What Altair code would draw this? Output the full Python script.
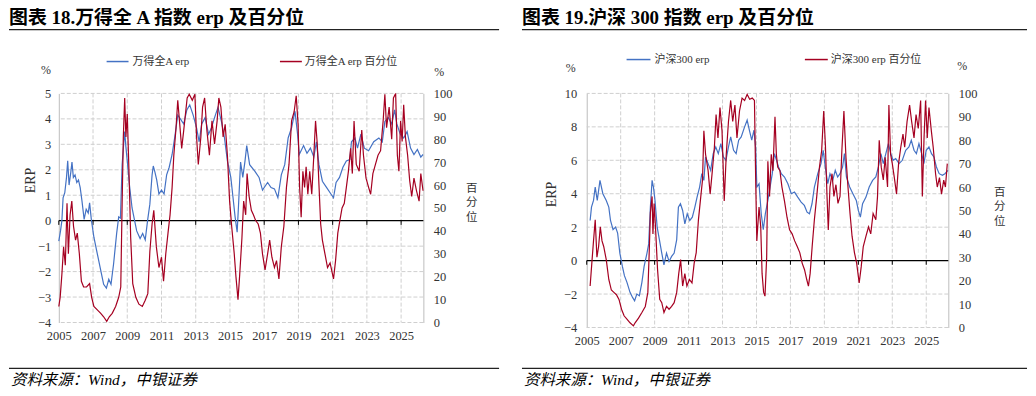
import altair as alt
import pandas as pd

# ---------------- data ----------------
YEAR_TICKS = [2005, 2007, 2009, 2011, 2013, 2015, 2017, 2019, 2021, 2023, 2025]
L_ERP_TICKS = [-4, -3, -2, -1, 0, 1, 2, 3, 4, 5]
R_ERP_TICKS = [-4, -2, 0, 2, 4, 6, 8, 10]
PCT_TICKS = [0, 10, 20, 30, 40, 50, 60, 70, 80, 90, 100]

# 万得全A erp (%)
L_ERP_YEARS = [2005.00, 2005.10, 2005.18, 2005.25, 2005.35, 2005.45, 2005.52, 2005.60, 2005.70, 2005.77,
               2005.85, 2005.95, 2006.05, 2006.15, 2006.25, 2006.35, 2006.48, 2006.60, 2006.72, 2006.80,
               2006.90, 2007.05, 2007.25, 2007.45, 2007.62, 2007.78, 2007.92, 2008.05, 2008.20, 2008.38,
               2008.50, 2008.60, 2008.70, 2008.80, 2008.85, 2008.92, 2009.00, 2009.12, 2009.28, 2009.43,
               2009.55, 2009.75, 2009.90, 2010.05, 2010.20, 2010.32, 2010.45, 2010.52, 2010.62, 2010.72,
               2010.85, 2011.00, 2011.15, 2011.30, 2011.45, 2011.62, 2011.78, 2011.95, 2012.10, 2012.30,
               2012.48, 2012.65, 2012.85, 2013.05, 2013.20, 2013.35, 2013.55, 2013.75, 2013.92, 2014.10,
               2014.30, 2014.50, 2014.68, 2014.85, 2015.05, 2015.18, 2015.30, 2015.42, 2015.50, 2015.62,
               2015.75, 2015.88, 2015.98, 2016.15, 2016.45, 2016.70, 2016.90, 2017.20, 2017.40, 2017.60,
               2017.80, 2018.00, 2018.20, 2018.40, 2018.60, 2018.80, 2018.95, 2019.05, 2019.30, 2019.50,
               2019.70, 2019.90, 2020.05, 2020.20, 2020.40, 2020.65, 2020.90, 2021.05, 2021.20, 2021.40,
               2021.60, 2021.80, 2022.00, 2022.10, 2022.30, 2022.45, 2022.65, 2022.85, 2023.10, 2023.40,
               2023.70, 2023.90, 2024.05, 2024.25, 2024.45, 2024.62, 2024.75, 2024.95, 2025.15, 2025.35,
               2025.55, 2025.75, 2025.95, 2026.15, 2026.28]
L_ERP_VALUES = [-0.8, -0.4, 0.0, 0.9, 1.1, 1.7, 2.35, 1.4, 1.9, 2.3,
                1.7, 1.8, 1.5, 1.6, 1.3, 0.8, 0.05, 0.45, 0.3, 0.7,
                0.05, -0.65, -1.3, -1.95, -2.5, -2.65, -2.3, -2.5, -1.7, -0.5,
                0.15, 0.1, 2.2, 3.1, 3.5, 2.9, 2.35, 1.45, 0.5, 0.0,
                -0.4, -0.7, -0.5, -0.75, 0.07, 0.65, 1.8, 2.15, 1.9, 1.6,
                1.05, 1.2, 1.05, 1.8, 2.1, 2.6, 3.3, 4.15, 4.0, 3.8,
                4.35, 4.55, 4.15, 3.65, 3.1, 3.8, 4.05, 3.4, 3.65, 4.05,
                4.45, 3.9, 3.25, 2.35, 1.7, 0.9, 0.15, -0.45, 0.6, 2.3,
                1.7, 2.35, 2.95, 2.2, 1.95, 1.7, 1.2, 1.5, 1.3, 1.25,
                0.9, 1.8, 2.2, 3.25, 3.65, 4.3, 3.4, 2.6, 2.95, 2.65,
                2.85, 2.5, 3.1, 2.2, 1.55, 1.3, 1.05, 0.9, 1.5, 1.7,
                2.1, 2.35, 2.4, 3.1, 3.25, 2.85, 3.4, 2.85, 2.75, 3.1,
                3.25, 3.1, 3.9, 4.05, 3.8, 4.35, 3.8, 3.4, 3.25, 3.5,
                2.85, 2.6, 2.8, 2.5, 2.6]

# 万得全A erp 百分位 (%)
L_PCT_YEARS = [2005.00, 2005.08, 2005.18, 2005.28, 2005.38, 2005.48, 2005.56, 2005.66, 2005.76, 2005.86,
               2005.98, 2006.08, 2006.20, 2006.32, 2006.45, 2006.62, 2006.80, 2006.92, 2007.05, 2007.25,
               2007.45, 2007.62, 2007.80, 2007.95, 2008.12, 2008.32, 2008.50, 2008.62, 2008.70, 2008.77,
               2008.85, 2008.92, 2009.00, 2009.10, 2009.20, 2009.32, 2009.50, 2009.68, 2009.88, 2010.05,
               2010.20, 2010.32, 2010.45, 2010.55, 2010.70, 2010.85, 2011.00, 2011.12, 2011.25, 2011.38,
               2011.50, 2011.62, 2011.72, 2011.85, 2011.95, 2012.05, 2012.18, 2012.30, 2012.40, 2012.50,
               2012.62, 2012.80, 2012.95, 2013.05, 2013.15, 2013.30, 2013.40, 2013.52, 2013.65, 2013.80,
               2013.95, 2014.10, 2014.25, 2014.35, 2014.47, 2014.60, 2014.72, 2014.85, 2014.98, 2015.10,
               2015.25, 2015.35, 2015.47, 2015.57, 2015.70, 2015.80, 2015.92, 2016.00, 2016.12, 2016.25,
               2016.37, 2016.50, 2016.65, 2016.78, 2016.90, 2017.05, 2017.20, 2017.32, 2017.45, 2017.60,
               2017.72, 2017.86, 2018.00, 2018.15, 2018.30, 2018.45, 2018.60, 2018.75, 2018.87, 2018.98,
               2019.07, 2019.16, 2019.26, 2019.36, 2019.45, 2019.55, 2019.66, 2019.78, 2019.90, 2020.00,
               2020.10, 2020.20, 2020.30, 2020.40, 2020.55, 2020.70, 2020.85, 2021.05, 2021.17, 2021.30,
               2021.42, 2021.55, 2021.68, 2021.80, 2021.92, 2022.05, 2022.15, 2022.25, 2022.38, 2022.55,
               2022.70, 2022.80, 2022.95, 2023.10, 2023.22, 2023.35, 2023.50, 2023.65, 2023.80, 2023.95,
               2024.05, 2024.15, 2024.30, 2024.45, 2024.55, 2024.68, 2024.78, 2024.87, 2024.97, 2025.06,
               2025.15, 2025.25, 2025.38, 2025.50, 2025.62, 2025.75, 2025.90, 2026.05, 2026.15, 2026.28]
L_PCT_VALUES = [7, 11, 21, 33, 25, 52, 30, 47, 53, 42,
                36, 39, 30, 18, 15.5, 15.5, 17, 11, 7, 5.5,
                4, 2.5, 0.5, 2.5, 4, 7, 11, 15.5, 52, 81,
                98, 81, 91, 66, 37, 17, 11, 8, 7, 9.7,
                12.6, 31, 43, 49, 33, 24, 28.5, 18, 30, 39,
                47, 59, 73, 85, 97, 88, 76, 84, 91, 98,
                99.6, 97, 99.6, 81, 69, 81, 94, 98, 84, 73,
                88, 78, 88, 98, 94, 81, 86.5, 73, 53, 42,
                30, 20, 10, 21, 37, 53, 47, 65, 55, 49,
                47, 44.5, 43, 39, 30, 23, 30, 36, 28.5, 24,
                27, 19, 33, 42, 59, 69, 88, 92, 99, 86.5,
                59, 46, 66, 59, 68, 56, 66, 56, 73, 88,
                78, 60, 43, 36, 30, 24, 26, 19, 27, 39,
                44.5, 50, 52, 59, 66, 76, 65, 88, 69, 66,
                84, 73, 63, 59, 56, 65, 69, 73, 75, 88,
                99.6, 85, 94, 80, 98, 100, 73, 66, 88, 79,
                95, 81, 73, 62, 55, 63, 57.5, 53, 65, 57.5]

# 沪深300 erp (%)
R_ERP_YEARS = [2005.20, 2005.28, 2005.40, 2005.50, 2005.62, 2005.78, 2005.95, 2006.15, 2006.30, 2006.40,
               2006.55, 2006.70, 2006.82, 2006.95, 2007.10, 2007.22, 2007.37, 2007.55, 2007.70, 2007.82,
               2007.95, 2008.10, 2008.25, 2008.38, 2008.55, 2008.65, 2008.75, 2008.85, 2008.93, 2009.02,
               2009.15, 2009.28, 2009.42, 2009.55, 2009.70, 2009.85, 2010.00, 2010.15, 2010.30, 2010.40,
               2010.52, 2010.65, 2010.78, 2010.92, 2011.07, 2011.22, 2011.37, 2011.50, 2011.65, 2011.78,
               2011.90, 2012.00, 2012.15, 2012.30, 2012.45, 2012.60, 2012.75, 2012.90, 2013.05, 2013.20,
               2013.35, 2013.48, 2013.65, 2013.80, 2013.95, 2014.10, 2014.30, 2014.45, 2014.58, 2014.72,
               2014.85, 2014.95, 2015.02, 2015.15, 2015.28, 2015.40, 2015.52, 2015.67, 2015.80, 2015.93,
               2016.05, 2016.12, 2016.30, 2016.46, 2016.65, 2016.85, 2017.05, 2017.24, 2017.43, 2017.63,
               2017.82, 2017.98, 2018.12, 2018.27, 2018.41, 2018.61, 2018.80, 2018.93, 2019.05, 2019.20,
               2019.33, 2019.49, 2019.64, 2019.78, 2019.92, 2020.07, 2020.18, 2020.30, 2020.49, 2020.68,
               2020.88, 2021.00, 2021.12, 2021.25, 2021.45, 2021.64, 2021.84, 2022.03, 2022.18, 2022.33,
               2022.47, 2022.62, 2022.77, 2022.91, 2023.05, 2023.20, 2023.40, 2023.59, 2023.79, 2023.98,
               2024.12, 2024.28, 2024.42, 2024.57, 2024.73, 2024.86, 2025.00, 2025.16, 2025.31, 2025.45,
               2025.60, 2025.76, 2025.95, 2026.10, 2026.28]
R_ERP_VALUES = [2.4, 3.2, 3.6, 4.4, 3.6, 4.8, 4.0, 3.6, 3.2, 2.4,
                1.85, 2.0, 1.65, 0.45, -0.35, -0.9, -1.3, -1.9, -2.2, -2.4,
                -2.0, -2.1, -1.3, -0.35, 0.45, 1.0, 3.2, 4.8, 4.4, 3.6,
                2.0, 1.25, 0.45, -0.25, 0.45, -0.05, 0.25, 0.45, 1.25, 3.2,
                3.4, 3.0, 2.2, 2.8, 2.4, 2.6, 3.2, 3.8, 4.4, 5.2,
                4.8, 6.2, 5.8, 5.4, 6.4, 6.8, 6.4, 7.0, 6.2, 6.0,
                6.8, 7.4, 6.6, 6.4, 7.2, 7.4, 8.0, 8.4, 7.8, 7.2,
                7.8, 6.8, 4.4, 4.6, 2.8, 1.85, 2.8, 3.6, 4.4, 5.2,
                6.4, 6.2, 5.6, 5.2, 5.0, 4.6, 4.0, 4.1, 3.8, 3.5,
                3.3, 2.9, 2.8, 3.4, 4.4, 5.2, 5.8, 6.6, 5.6, 4.6,
                5.2, 4.8, 5.4, 5.0, 5.2, 5.6, 6.4, 5.0, 4.4, 4.0,
                3.6, 3.0, 2.6, 3.4, 3.8, 4.4, 4.8, 5.0, 5.6, 6.4,
                5.8, 6.4, 7.0, 6.4, 6.0, 6.1, 5.8, 6.0, 6.6, 6.8,
                7.2, 6.6, 6.4, 7.0, 6.4, 5.8, 6.6, 6.8, 6.4, 6.2,
                5.6, 5.2, 5.1, 5.2, 5.4]

# 沪深300 erp 百分位 (%)
R_PCT_YEARS = [2005.20, 2005.30, 2005.40, 2005.50, 2005.60, 2005.70, 2005.80, 2005.90, 2006.00, 2006.15,
               2006.30, 2006.45, 2006.60, 2006.75, 2006.90, 2007.05, 2007.20, 2007.38, 2007.55, 2007.75,
               2007.85, 2008.05, 2008.25, 2008.45, 2008.60, 2008.68, 2008.75, 2008.85, 2008.90, 2008.97,
               2009.05, 2009.17, 2009.30, 2009.42, 2009.55, 2009.70, 2009.85, 2010.00, 2010.15, 2010.30,
               2010.42, 2010.53, 2010.65, 2010.78, 2010.90, 2011.05, 2011.20, 2011.33, 2011.45, 2011.58,
               2011.72, 2011.82, 2011.90, 2012.00, 2012.15, 2012.27, 2012.40, 2012.52, 2012.62, 2012.73,
               2012.85, 2012.97, 2013.10, 2013.22, 2013.35, 2013.48, 2013.60, 2013.73, 2013.85, 2014.00,
               2014.15, 2014.30, 2014.45, 2014.60, 2014.75, 2014.88, 2014.96, 2015.02, 2015.15, 2015.25,
               2015.33, 2015.42, 2015.50, 2015.60, 2015.67, 2015.77, 2015.87, 2015.97, 2016.09, 2016.17,
               2016.25, 2016.38, 2016.50, 2016.65, 2016.80, 2016.95, 2017.10, 2017.25, 2017.40, 2017.55,
               2017.69, 2017.83, 2017.96, 2018.06, 2018.16, 2018.28, 2018.41, 2018.55, 2018.71, 2018.84,
               2018.96, 2019.06, 2019.15, 2019.23, 2019.33, 2019.45, 2019.56, 2019.68, 2019.80, 2019.92,
               2020.03, 2020.15, 2020.27, 2020.39, 2020.51, 2020.63, 2020.77, 2020.90, 2021.05, 2021.17,
               2021.29, 2021.45, 2021.60, 2021.73, 2021.87, 2022.03, 2022.13, 2022.23, 2022.35, 2022.47,
               2022.58, 2022.72, 2022.80, 2022.90, 2023.00, 2023.12, 2023.25, 2023.37, 2023.50, 2023.63,
               2023.73, 2023.87, 2024.02, 2024.14, 2024.28, 2024.40, 2024.53, 2024.67, 2024.77, 2024.87,
               2024.96, 2025.06, 2025.16, 2025.30, 2025.41, 2025.55, 2025.65, 2025.78, 2025.90, 2026.03,
               2026.13, 2026.24]
R_PCT_VALUES = [17.7, 27.5, 37, 46, 30, 34.6, 43, 37, 34.6, 29,
                20.5, 16, 15, 14, 12, 7.8, 5, 3.5, 2, 0.7,
                2, 4, 6.4, 9, 15, 32, 49, 56, 40, 53,
                43, 25, 12, 10.6, 6.4, 9, 7.8, 9, 10.6, 15,
                23, 29, 17.7, 23, 17.7, 20.5, 19, 27.5, 32, 46,
                56, 63, 84, 74, 67, 57, 67, 77, 91, 81,
                94, 84, 54, 74, 88, 97, 88, 95, 81, 92.5,
                98, 97, 99.6, 97.5, 98, 97, 60, 37, 51.5, 43,
                23, 15, 13.4, 30, 71, 56, 74, 67, 90, 74,
                68.5, 67, 60, 54, 47, 41.7, 40, 37, 34.6, 32,
                27.5, 24.7, 20.5, 17.7, 23, 34.6, 46, 56, 68.5, 75.6,
                92.5, 78, 57, 41.7, 60, 65.7, 56, 61, 53, 56,
                75.6, 92.5, 72.7, 60, 48.7, 39, 32, 27.5, 19, 26,
                34.6, 39, 43, 40, 48.7, 46, 56, 80, 68.5, 63,
                72.7, 60, 95, 74, 70, 64, 57, 70, 77, 82.6,
                77, 88, 95, 88, 81, 91, 85, 97, 56, 81,
                97, 81, 94, 84, 77, 65.7, 60, 64, 57, 63,
                60, 70]

# ---------------- styling ----------------
BLUE = "#4472C4"
RED = "#A50021"
SERIF = "Liberation Serif, Noto Sans CJK SC"
CJK = "Noto Sans CJK SC"
GRID = "#CFCFCF"
AXISC = "#BDBDBD"
TXT = "#333333"
X_DOMAIN = [2005, 2026.3]
ONE = alt.Data(values=[{"k": 0}])
XSCALE = alt.Scale(domain=X_DOMAIN, nice=False, zero=False)
XAXIS = alt.Axis(values=YEAR_TICKS, format="d", title=None, grid=False, domain=False,
                 ticks=False, tickSize=0, labelPadding=7, labelFont=SERIF,
                 labelFontSize=12.5, labelColor=TXT, labelFlush=False, labelOverlap=False,
                 orient="bottom")


def xenc():
    # identical axis definition in every layer so Vega-Lite merges them into one x axis
    return alt.X("year:Q", scale=XSCALE, axis=XAXIS)


def rule(x1, x2, y, color="#222222", w=1.3):
    return alt.Chart(ONE).mark_rule(color=color, strokeWidth=w).encode(
        x=alt.value(x1), x2=alt.value(x2), y=alt.value(y))


def label(s, x, y, size, font=SERIF, align="left", baseline="middle", weight="normal",
          style="normal", color=TXT):
    return alt.Chart(ONE).mark_text(text=s, align=align, baseline=baseline, font=font,
                                    fontSize=size, fontWeight=weight, fontStyle=style,
                                    color=color).encode(x=alt.value(x), y=alt.value(y))


def panel(title, name, erp_years, erp_vals, pct_years, pct_vals, ydomain, yticks,
          width, height, geo):
    erp_df = pd.DataFrame({"year": erp_years, "v": erp_vals})
    pct_df = pd.DataFrame({"year": pct_years, "p": pct_vals})
    lscale = alt.Scale(domain=ydomain, nice=False, zero=False)

    # grid lines: one rule per tick value, placed through the chart's own scales
    vgrid = [alt.Chart(ONE).mark_rule(color=GRID, strokeWidth=1, strokeDash=[4, 2]).encode(
        x=alt.XDatum(yr, type="quantitative", scale=XSCALE, axis=XAXIS))
        for yr in YEAR_TICKS[1:]]
    hgrid = [alt.Chart(ONE).mark_rule(color=GRID, strokeWidth=1, strokeDash=[4, 2]).encode(
        y=alt.YDatum(t, type="quantitative", scale=lscale, axis=None))
        for t in yticks[:-0 or None] if t != 0]

    blue = alt.Chart(erp_df).mark_line(color=BLUE, strokeWidth=1.2).encode(
        x=xenc(),
        y=alt.Y("v:Q", scale=lscale,
                axis=alt.Axis(orient="left", values=yticks, title="ERP",
                              titleX=geo["erp_t"][0], titleY=geo["erp_t"][1], titleAngle=270,
                              titleAlign="center", titleBaseline="middle", titleFont=SERIF,
                              titleFontSize=14, titleFontWeight="normal", titleColor=TXT,
                              grid=False, domain=True, domainColor=AXISC, ticks=False,
                              tickSize=0, labelPadding=geo["lpad"], labelFont=SERIF,
                              labelFontSize=12.5, labelColor=TXT)))
    zero = alt.Chart(ONE).mark_rule(color="#000000", strokeWidth=1.3).encode(
        y=alt.YDatum(0, type="quantitative", scale=lscale, axis=None))
    zticks = [alt.Chart(ONE).mark_rule(color="#000000", strokeWidth=1).encode(
        x=alt.XDatum(yr, type="quantitative", scale=XSCALE, axis=XAXIS),
        y=alt.YDatum(0, type="quantitative", scale=lscale, axis=None),
        y2=alt.value(geo["ztick_y2"]))
        for yr in YEAR_TICKS]

    red = alt.Chart(pct_df).mark_line(color=RED, strokeWidth=1.2).encode(
        x=xenc(),
        y=alt.Y("p:Q", scale=alt.Scale(domain=[0, 100], nice=False, zero=False),
                axis=alt.Axis(orient="right", values=PCT_TICKS, title=["百", "分", "位"],
                              titleX=geo["pct_t"][0], titleY=geo["pct_t"][1], titleAngle=0,
                              titleAlign="center", titleBaseline="middle", titleFont=CJK,
                              titleFontSize=11.5, titleLineHeight=15, titleFontWeight="normal",
                              titleColor=TXT, grid=False, domain=True, domainColor=AXISC,
                              ticks=False, tickSize=0, labelPadding=10, labelFont=SERIF,
                              labelFontSize=12.5, labelColor=TXT)))

    decos = [
        label(title, geo["x0"], -85, 19, weight="bold", baseline="top", color="#000000"),
        rule(geo["x0"], geo["x1"], -64),
        rule(geo["lg_b"][0], geo["lg_b"][1], geo["lg_y"], color=BLUE, w=1.5),
        label(name + " erp", geo["lg_b"][1] + 4, geo["lg_y"], 11),
        rule(geo["lg_r"][0], geo["lg_r"][1], geo["lg_y"], color=RED, w=1.5),
        label(name + " erp 百分位", geo["lg_r"][1] + 3, geo["lg_y"], 11),
        label("%", geo["pl"][0], geo["pl"][1], 12, align="center"),
        label("%", geo["pr"][0], geo["pr"][1], 12, align="center"),
        rule(geo["x0"], geo["x1"], 276),
        label("资料来源：Wind，中银证券", geo["x0"] + 2, 288, 15.5, style="italic",
              color="#000000"),
    ]
    return alt.layer(*vgrid, *hgrid, zero, *zticks, blue, red, *decos).resolve_scale(
        y="independent").properties(width=width, height=height)


left_geo = {"x0": -50, "x1": 442, "lg_y": -32, "lg_b": (48, 70), "lg_r": (222, 244),
            "pl": (-13, -23), "pr": (382, -21), "erp_t": (-28, 87), "pct_t": (48, 95),
            "lpad": 8, "ztick_y2": 132}
right_geo = {"x0": -65, "x1": 442, "lg_y": -34, "lg_b": (40, 64), "lg_r": (219, 242),
             "pl": (-16, -26), "pr": (377, -28), "erp_t": (-35, 101), "pct_t": (51, 99),
             "lpad": 10, "ztick_y2": 172}

left = panel("图表 18.万得全 A 指数 erp 及百分位", "万得全A", L_ERP_YEARS, L_ERP_VALUES,
             L_PCT_YEARS, L_PCT_VALUES, [-4, 5], L_ERP_TICKS, 366, 230, left_geo)
right = panel("图表 19.沪深 300 指数 erp 及百分位", "沪深300", R_ERP_YEARS, R_ERP_VALUES,
              R_PCT_YEARS, R_PCT_VALUES, [-4, 10], R_ERP_TICKS, 363, 235, right_geo)

chart = alt.hconcat(left, right, spacing=164, bounds="flush").properties(
    padding=0, background="white").configure_view(stroke=None)

chart.save("out.html", embed_options={"renderer": "svg", "actions": False})
